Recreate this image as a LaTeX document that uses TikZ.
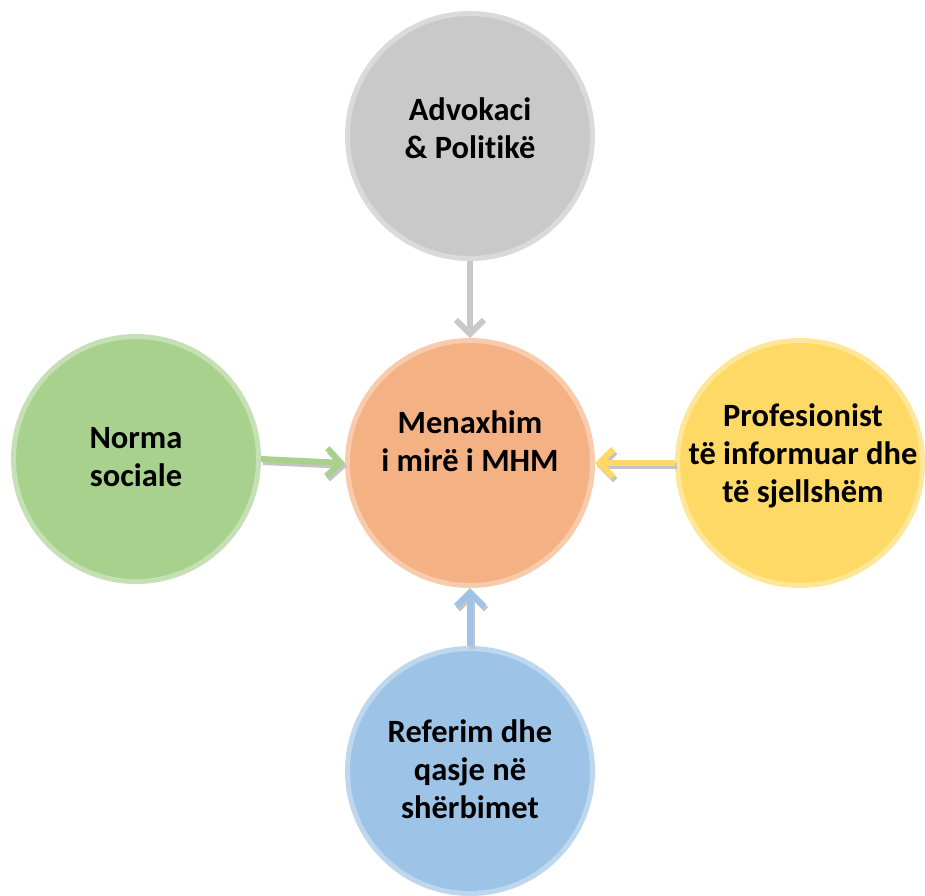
\documentclass[tikz,border=0pt]{standalone}
\usepackage{fontspec}
\setmainfont{Carlito}[Ligatures=NoCommon]
\usetikzlibrary{arrows.meta}
\definecolor{gfill}{HTML}{C9C9C9}\definecolor{gline}{HTML}{DADADA}
\definecolor{grfill}{HTML}{A9D18E}\definecolor{grline}{HTML}{C5E0B4}
\definecolor{ofill}{HTML}{F4B183}\definecolor{oline}{HTML}{F8CBAD}
\definecolor{yfill}{HTML}{FFD966}\definecolor{yline}{HTML}{FFE699}
\definecolor{bfill}{HTML}{9DC3E6}\definecolor{bline}{HTML}{BDD7EE}
\definecolor{shad}{HTML}{C4C4C4}
\tikzset{
  circ/.style={circle, minimum size=245pt, line width=5pt, inner sep=0pt},
  lbl/.style={font=\bfseries\fontsize{32.5}{38}\selectfont, align=center, text=black},
  conn/.style={line width=6pt, -{Straight Barb[length=14pt,width=28pt,line width=6pt]}},
}
\begin{document}
\begin{tikzpicture}[x=1pt,y=-1pt]
\useasboundingbox (0,0) rectangle (925,895);
\node[circ, fill=gfill, draw=gline] (top) at (470,136) {};
\node[circ, fill=ofill, draw=oline] (mid) at (470,463) {};
\node[circ, fill=grfill, draw=grline] (left) at (136,459) {};
\node[circ, fill=yfill, draw=yline] (right) at (800,463) {};
\node[circ, fill=bfill, draw=bline] (bot) at (470,771) {};
\node[lbl] (ttop) at (470,128) {Advokaci\\\& Politikë};
\node[lbl] (tmid) at (470,441) {Menaxhim\\i mirë i MHM};
\node[lbl] (tleft) at (136,457) {Norma\\sociale};
\node[lbl] (tright) at (803,456) {Profesionist\\të informuar dhe\\të sjellshëm};
\node[lbl] (tbot) at (470,769) {Referim dhe\\qasje në\\shërbimet};
% shadows
\draw[conn, shad, transform canvas={shift={(2pt,-3pt)}}] (left.east) -- (mid.west);
\draw[conn, shad, transform canvas={shift={(2pt,-3pt)}}] (right.west) -- (mid.east);
\draw[conn, shad, transform canvas={shift={(2pt,-3pt)}}] (bot.north) -- (mid.south);
% arrows
\draw[conn, gfill] (top.south) -- (mid.north);
\draw[conn, grfill] (left.east) -- (mid.west);
\draw[conn, yfill] (right.west) -- (mid.east);
\draw[conn, bfill] (bot.north) -- (mid.south);
\end{tikzpicture}
\end{document}
